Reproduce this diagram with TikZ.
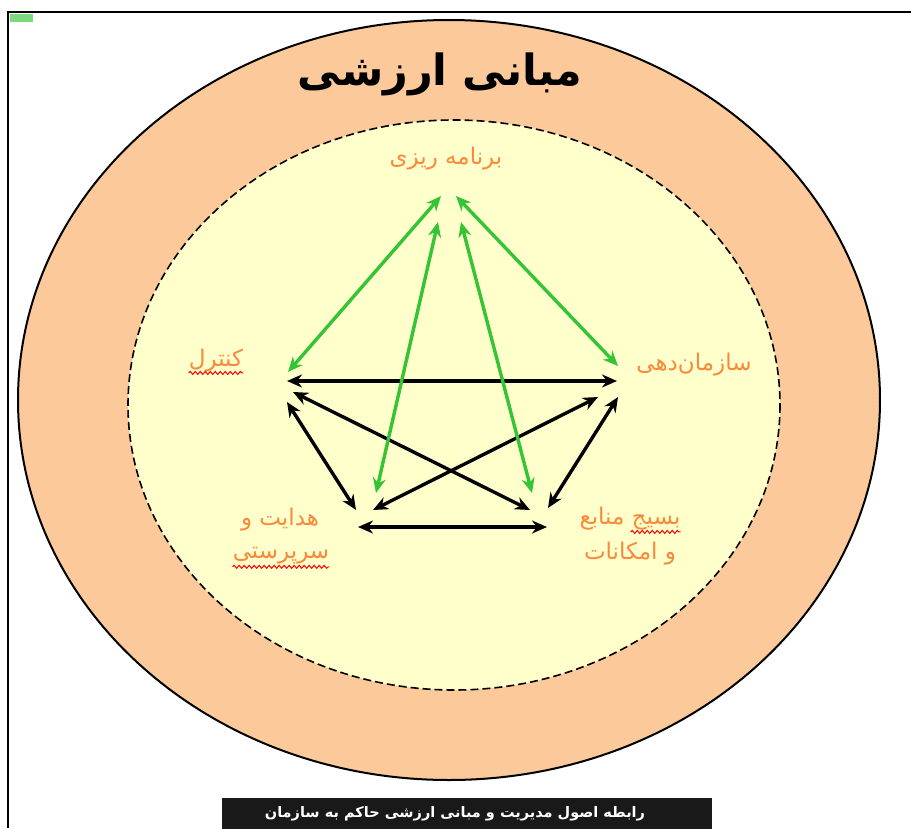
\documentclass[tikz,border=0pt]{standalone}
\usepackage{fontspec}
\setmainfont{DejaVu Sans}
\newfontfamily\fa[Script=Arabic]{DejaVu Sans}
\TeXXeTstate=1
\usetikzlibrary{arrows.meta,decorations.pathmorphing}
\definecolor{peach}{HTML}{FBC99A}
\definecolor{cream}{HTML}{FFFFCC}
\definecolor{lblorange}{HTML}{F98A3C}
\definecolor{grarrow}{HTML}{35C435}
\definecolor{lgreen}{HTML}{7ED87E}
\begin{document}
\begin{tikzpicture}[x=1pt,y=-1pt,
  lbl/.style={text=lblorange,font=\fa\fontsize{23}{27}\selectfont,inner sep=0pt},
  dbl/.style={line width=3.4pt,{Stealth[length=15pt,width=13pt]}-{Stealth[length=15pt,width=13pt]}},
  blk/.style={dbl,black},
  grn/.style={dbl,grarrow},
  wavy/.style={red,line width=1pt,decorate,decoration={snake,amplitude=1.5pt,segment length=5pt}}]
\useasboundingbox (0,0) rectangle (911,828);
\fill[white] (0,0) rectangle (911,828);
% frame
\draw[line width=2.2pt] (8,828) -- (8,12) -- (911,12);
\fill[lgreen] (10,14) rectangle (33,22);
% ellipses
\draw[fill=peach,line width=2pt] (449,400) ellipse [x radius=431, y radius=380];
\draw[fill=cream,line width=1.6pt,dash pattern=on 8pt off 4pt] (454,405) ellipse [x radius=326, y radius=285];
% title
\node[font=\fa\bfseries\fontsize{43}{48}\selectfont,inner sep=0pt] (title) at (440,74) {\beginR مبانی ارزشی\endR};
% labels
\node[lbl] (plan) at (446,159) {\beginR برنامه ریزی\endR};
\node[lbl] (ctrl) at (216,361) {\beginR کنترل\endR};
\node[lbl] (org) at (694,365) {\beginR سازمان‌دهی\endR};
\node[lbl] (lead1) at (280,520) {\beginR هدایت و\endR};
\node[lbl] (lead2) at (281,556) {\beginR سرپرستی\endR};
\node[lbl] (mob1) at (630,519) {\beginR بسیج منابع\endR};
\node[lbl] (mob2) at (630,554) {\beginR و امکانات\endR};
% spell-check underlines
\draw[wavy] ([yshift=-6pt]ctrl.base west) -- ([yshift=-6pt]ctrl.base east);
\draw[wavy] ([yshift=-8pt]lead2.base west) -- ([yshift=-8pt]lead2.base east);
\draw[wavy] ([xshift=-50pt,yshift=-7pt]mob1.base east) -- ([yshift=-7pt]mob1.base east);
% coordinates
\coordinate (pL) at (441,196);
\coordinate (pR) at (456,196);
\coordinate (pDL) at (438,222);
\coordinate (pDR) at (461,222);
\coordinate (cG) at (288,372);
\coordinate (cO) at (287,381);
\coordinate (cM) at (293,392);
\coordinate (cH) at (287,402);
\coordinate (oG) at (618,366);
\coordinate (oC) at (617,381);
\coordinate (oH) at (598,397);
\coordinate (oM) at (618,397);
\coordinate (hG) at (376,493);
\coordinate (hC) at (356,510);
\coordinate (hO) at (373,510);
\coordinate (hM) at (358,527);
\coordinate (mG) at (532,493);
\coordinate (mC) at (530,510);
\coordinate (mO) at (548,508);
\coordinate (mH) at (547,527);
% black arrows
\draw[blk] (cO) -- (oC);
\draw[blk] (cH) -- (hC);
\draw[blk] (cM) -- (mC);
\draw[blk] (oH) -- (hO);
\draw[blk] (oM) -- (mO);
\draw[blk] (hM) -- (mH);
% green arrows
\draw[grn] (pL) -- (cG);
\draw[grn] (pR) -- (oG);
\draw[grn] (pDL) -- (hG);
\draw[grn] (pDR) -- (mG);
% caption
\fill[black!90] (222,798) rectangle (712,830);
\node[text=white,font=\fa\bfseries\fontsize{14.5}{17}\selectfont,inner sep=0pt] (cap) at (455,814) {\beginR رابطه اصول مدیریت و مبانی ارزشی حاکم به سازمان\endR};
\end{tikzpicture}
\end{document}
